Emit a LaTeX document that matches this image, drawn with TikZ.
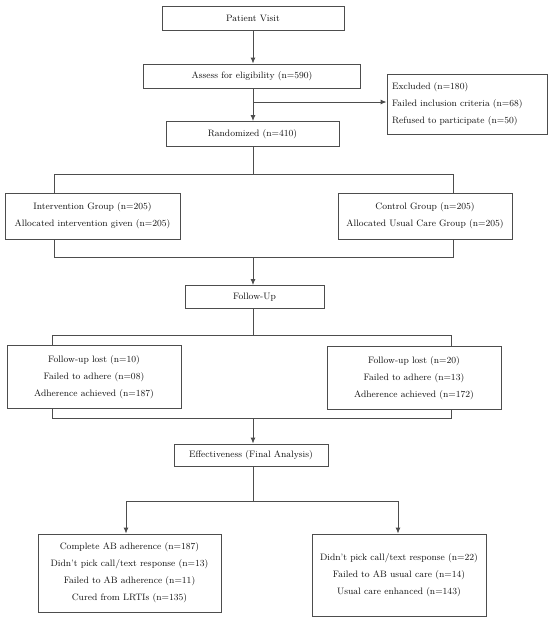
\documentclass[tikz,border=0pt]{standalone}
\usetikzlibrary{arrows.meta}
\definecolor{lncol}{HTML}{4D4D4D}
\definecolor{txcol}{HTML}{111111}
\begin{document}
\begin{tikzpicture}[x=1pt,y=-1pt,
  box/.style={draw=lncol,line width=0.9pt,rectangle,inner sep=0pt,align=center,text=txcol,
    font=\fontsize{9.3}{17}\selectfont},
  ln/.style={draw=lncol,line width=0.9pt},
  arr/.style={ln,-{Latex[length=6pt,width=5pt]}}]
\useasboundingbox (0,0) rectangle (550,619);
% nodes
\node[box,minimum width=182pt,minimum height=24pt] (pv) at (253,18) {Patient Visit};
\node[box,minimum width=217pt,minimum height=24pt] (ae) at (252,76) {Assess for eligibility (n=590)};
\node[box,minimum width=160pt,minimum height=60pt,align=left,text width=150pt] (ex) at (467,104)
  {Excluded (n=180)\\Failed inclusion criteria (n=68)\\Refused to participate (n=50)};
\node[box,minimum width=173pt,minimum height=25pt] (rd) at (252.5,134) {Randomized (n=410)};
\node[box,minimum width=175pt,minimum height=46pt] (gL) at (92.5,216)
  {Intervention Group (n=205)\\Allocated intervention given (n=205)};
\node[box,minimum width=174pt,minimum height=46pt] (gR) at (425,216)
  {Control Group (n=205)\\Allocated Usual Care Group (n=205)};
\node[box,minimum width=139pt,minimum height=23pt] (fu) at (254.5,297) {Follow-Up};
\node[box,minimum width=174pt,minimum height=63pt] (fL) at (94,377)
  {Follow-up lost (n=10)\\Failed to adhere (n=08)\\Adherence achieved (n=187)};
\node[box,minimum width=174pt,minimum height=63pt] (fR) at (414,378)
  {Follow-up lost (n=20)\\Failed to adhere (n=13)\\Adherence achieved (n=172)};
\node[box,minimum width=154pt,minimum height=22pt] (ef) at (251,455) {Effectiveness (Final Analysis)};
\node[box,minimum width=183pt,minimum height=78pt] (bL) at (129.5,573)
  {Complete AB adherence (n=187)\\Didn't pick call/text response (n=13)\\Failed to AB adherence (n=11)\\Cured from LRTIs (n=135)};
\node[box,minimum width=174pt,minimum height=82pt] (bR) at (399,575)
  {Didn't pick call/text response (n=22)\\Failed to AB usual care (n=14)\\Usual care enhanced (n=143)};
% coordinates
\coordinate (br) at (253,102);
\coordinate (s1L) at (54,174);
\coordinate (s1R) at (453,174);
\coordinate (m1L) at (54,257);
\coordinate (m1R) at (453,257);
\coordinate (s2L) at (52,335);
\coordinate (s2R) at (451,335);
\coordinate (m2L) at (52,418);
\coordinate (m2R) at (451,418);
\coordinate (s3L) at (126,501);
\coordinate (s3R) at (398,501);
% connectors
\draw[arr] (pv.south -| br) -- (ae.north -| br);
\draw[arr] (ae.south -| br) -- (rd.north -| br);
\draw[arr] (br) -- (br -| ex.west);
\draw[ln] (rd.south -| br) -- (br |- s1L);
\draw[ln] (gL.north -| s1L) -- (s1L) -- (s1R) -- (gR.north -| s1R);
\draw[ln] (gL.south -| m1L) -- (m1L) -- (m1R) -- (gR.south -| m1R);
\draw[arr] (br |- m1L) -- (br |- fu.north);
\draw[ln] (br |- fu.south) -- (br |- s2L);
\draw[ln] (fL.north -| s2L) -- (s2L) -- (s2R) -- (fR.north -| s2R);
\draw[ln] (fL.south -| m2L) -- (m2L) -- (m2R) -- (fR.south -| m2R);
\draw[arr] (br |- m2L) -- (br |- ef.north);
\draw[ln] (br |- ef.south) -- (br |- s3L);
\draw[arr] (br |- s3L) -- (s3L) -- (s3L |- bL.north);
\draw[arr] (br |- s3R) -- (s3R) -- (s3R |- bR.north);
\end{tikzpicture}
\end{document}
